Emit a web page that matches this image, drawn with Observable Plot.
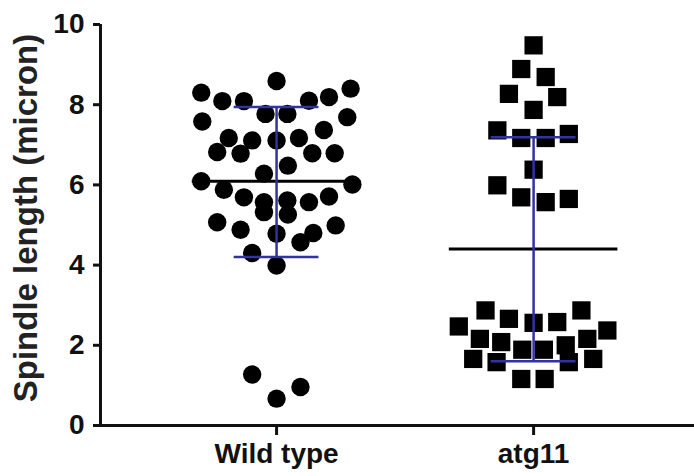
<!DOCTYPE html>
<html><head><meta charset="utf-8">
<script src="https://cdn.jsdelivr.net/npm/d3@7"></script>
<script src="https://cdn.jsdelivr.net/npm/@observablehq/plot@0.6"></script>
<style>body{margin:0;background:#fff} #chart{width:694px;height:476px}</style>
</head><body><div id="chart"></div>
<script>
const categories = ["Wild type", "atg11"];
const yTicks = [0, 2, 4, 6, 8, 10];
const yLabel = "Spindle length (micron)";

// Wild type spindle lengths (circles) and their horizontal scatter (in category units)
const wildType = [8.59, 8.30, 8.09, 8.09, 8.10, 8.19, 8.40, 7.58, 7.77, 7.77, 7.69, 7.37, 7.17, 7.11, 7.11, 7.17,
  6.82, 6.78, 6.79, 6.79, 6.48, 6.28, 6.09, 6.01, 5.88, 5.69, 5.57, 5.61, 5.57, 5.71, 5.32, 5.26, 5.07, 4.88,
  4.78, 4.80, 4.99, 4.57, 4.30, 3.99, 1.27, 0.67, 0.96];
const wildTypeJitter = [0, -0.293, -0.211, -0.127, 0.126, 0.204, 0.288, -0.289, -0.043, 0.042, 0.275, 0.184, -0.186, -0.095, 0, 0.087,
  -0.231, -0.140, 0.139, 0.226, 0.044, -0.049, -0.293, 0.295, -0.205, -0.127, -0.049, 0.042, 0.126, 0.204, -0.049, 0.044, -0.231, -0.140,
  0, 0.143, 0.230, 0.093, -0.095, 0, -0.095, 0, 0.093];

// atg11 spindle lengths (squares) and their horizontal scatter
const atg11 = [9.48, 8.89, 8.69, 8.27, 8.19, 7.87, 7.36, 7.17, 7.17, 7.27, 6.38, 5.99, 5.69, 5.57, 5.65,
  2.87, 2.66, 2.56, 2.58, 2.87, 2.47, 2.37, 2.16, 2.08, 2.16, 2.00, 1.89, 1.89, 1.66, 1.58, 1.58, 1.66, 1.16, 1.16];
const atg11Jitter = [0, -0.048, 0.047, -0.096, 0.092, 0, -0.141, -0.048, 0.047, 0.137, 0, -0.141, -0.048, 0.047, 0.137,
  -0.187, -0.096, 0, 0.092, 0.186, -0.291, 0.287, -0.209, -0.126, 0.209, 0.125, -0.044, 0.040, -0.235, -0.144, 0.137, 0.232, -0.048, 0.043];

// Summary: mean and mean ± SD
const means = [6.09, 4.40];
const sdLow = [4.20, 1.60];
const sdHigh = [7.94, 7.19];

const wtData = wildType.map((v, k) => ({x: 0 + wildTypeJitter[k], y: v}));
const atgData = atg11.map((v, k) => ({x: 1 + atg11Jitter[k], y: v}));
const summary = categories.map((c, i) => ({i, mean: means[i], lo: sdLow[i], hi: sdHigh[i]}));

const xDomain = [-0.685, 1.626];
const meanHalf = 0.328, capHalf = 0.165;
const blue = "#3232a2";

const chart = Plot.plot({
  width: 694,
  height: 476,
  marginLeft: 100,
  marginRight: 0,
  marginTop: 24,
  marginBottom: 51,
  style: {fontFamily: "'Liberation Sans', Arial, sans-serif", fontWeight: "bold", fontSize: "28px", color: "#111", background: "#fff"},
  x: {domain: xDomain},
  y: {domain: [0, 10]},
  marks: [
    Plot.dot(wtData, {x: "x", y: "y", r: 9.2, fill: "#000", stroke: null}),
    Plot.dot(atgData, {x: "x", y: "y", r: 10.3, symbol: "square", fill: "#000", stroke: null}),
    Plot.ruleY(summary, {y: "mean", x1: d => d.i - meanHalf, x2: d => d.i + meanHalf, stroke: "#000", strokeWidth: 3}),
    Plot.ruleX(summary, {x: "i", y1: "lo", y2: "hi", stroke: blue, strokeWidth: 2.5}),
    Plot.ruleY(summary, {y: "hi", x1: d => d.i - capHalf, x2: d => d.i + capHalf, stroke: blue, strokeWidth: 2.5}),
    Plot.ruleY(summary, {y: "lo", x1: d => d.i - capHalf, x2: d => d.i + capHalf, stroke: blue, strokeWidth: 2.5}),
    Plot.ruleY([0], {stroke: "#111", strokeWidth: 3}),
    Plot.ruleX([xDomain[0]], {y1: 0, y2: 10, stroke: "#111", strokeWidth: 3}),
    Plot.axisX([0, 1], {tickFormat: i => categories[i], tickSize: 10, tickPadding: 8, strokeWidth: 3, stroke: "#111", fill: "#111", fontSize: 28, fontWeight: "bold", label: null}),
    Plot.axisY(yTicks, {tickSize: 7, tickPadding: 9, strokeWidth: 3, stroke: "#111", fill: "#111", fontSize: 28, fontWeight: "bold", label: null}),
    Plot.text([yLabel], {frameAnchor: "left", textAnchor: "middle", rotate: -90, dx: -87, dy: -7, lineAnchor: "top", fontSize: 33, fontWeight: "bold", fill: "#222"})
  ]
});
document.getElementById("chart").appendChild(chart);
</script>
</body></html>
